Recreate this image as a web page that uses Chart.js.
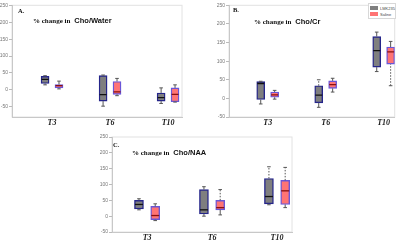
<!DOCTYPE html>
<html>
<head>
<meta charset="utf-8">
<script src="https://cdn.jsdelivr.net/npm/chart.js@4"></script>
<style>
  body { margin: 0; background: #fff; width: 400px; height: 242px; overflow: hidden; position: relative; }
  canvas { position: absolute; }
  .lbl { position: absolute; white-space: pre; line-height: 1; color: #111; }
  .ser { font-family: 'Liberation Serif', serif; font-weight: bold; }
  .san { font-family: 'Liberation Sans', sans-serif; font-weight: bold; }
  #legend { position: absolute; left: 368px; top: 3px; width: 26px; background: #fff; border: 1px solid #d8d8d8; padding: 1px 0; }
  #legend div { display: flex; align-items: center; height: 6px; font: 4px 'Liberation Sans', sans-serif; color: #444; }
  #legend span.sw { display: inline-block; width: 8px; height: 4px; margin: 0 2px 0 1px; }
</style>
</head>
<body>
<canvas id="chartA" width="190" height="132" style="left:0;top:0"></canvas>
<canvas id="chartB" width="200" height="132" style="left:200px;top:0"></canvas>
<canvas id="chartC" width="210" height="114" style="left:90px;top:128px"></canvas>

<div class="lbl ser" style="left:18px;top:8px;font-size:6.5px">A.</div>
<div class="lbl" style="left:33px;top:10px"><span class="ser" style="font-size:7px">% change in</span> <span class="san" style="font-size:7.5px">Cho/Water</span></div>
<div class="lbl ser" style="left:233px;top:7px;font-size:6.5px">B.</div>
<div class="lbl" style="left:254px;top:11px"><span class="ser" style="font-size:7px">% change in</span> <span class="san" style="font-size:7.5px">Cho/Cr</span></div>
<div class="lbl ser" style="left:113px;top:142px;font-size:6.5px">C.</div>
<div class="lbl" style="left:132px;top:142px"><span class="ser" style="font-size:7px">% change in</span> <span class="san" style="font-size:7.5px">Cho/NAA</span></div>
<div id="legend"></div>

<script>
// categories and groups
const timepoints = ['T3', 'T6', 'T10'];
const groups = ['LMK235', 'Saline'];
const yTicks = [-50, 0, 50, 100, 150, 200, 250];

// five-number summaries per timepoint: [min, q1, median, q3, max]
const waterLmk = [[15, 19, 31, 40, 42], [-48, -33, -14, 42, 44], [-40, -33, -23, -9, 6]];
const waterSaline = [[3, 6, 12.5, 16, 26], [-17, -13, -6, 25, 34], [-36, -35, -13, 6, 15]];
const crLmk = [[-15, -3, 40, 45, 46], [-24, -12, 8.6, 34, 50], [72, 84, 128, 166, 178]];
const crSaline = [[-2, 3, 9.5, 17, 21.5], [17, 27, 37, 47, 54], [34, 92, 125, 138, 153]];
const naaLmk = [[20, 23, 37, 50, 55], [0, 7, 20, 84, 93], [36, 39, 62, 119, 156]];
const naaSaline = [[-14, -11, 2, 31, 39], [4, 20, 27, 50, 84], [27, 37, 80, 113, 154]];

// which whiskers are drawn dashed: 'lo' / 'hi' per timepoint
const dashB = [[[], ['hi'], []], [[], [], ['lo']]];
const dashC = [[[], [], ['hi']], [[], ['hi'], ['hi']]];
const noDash = [[[], [], []], [[], [], []]];

const fills = ['#7f7f7f', '#ff7474'];
const edges = ['#25258a', '#6a56d8'];
const medians = ['#111111', '#8a1010'];

const legend = document.getElementById('legend');
groups.forEach((g, i) => {
    legend.innerHTML += `<div><span class="sw" style="background:${fills[i]}"></span>${g}</div>`;
});

const frame = {
    id: 'frame',
    beforeDraw(chart) {
        const a = chart.chartArea, c = chart.ctx;
        c.save();
        c.strokeStyle = '#e2e2e2';
        c.lineWidth = 1;
        c.strokeRect(a.left, a.top, a.right - a.left, a.bottom - a.top);
        c.restore();
    }
};

function makeBox(id, series, dash, cfg) {
    const datasets = [];
    series.forEach((s, g) => {
        const off = g === 0 ? -cfg.shift : cfg.shift;
        const xs = s.map((_, i) => i + 1 + off);
        datasets.push({
            type: 'bar', label: groups[g], order: 3,
            data: s.map((v, i) => ({ x: xs[i], y: [v[1], v[3]] })),
            backgroundColor: fills[g], borderColor: edges[g], borderWidth: 1.4,
            borderSkipped: false, barThickness: cfg.bw, grouped: false
        });
        const wh = [];
        s.forEach((v, i) => {
            wh.push({ x: xs[i], y: v[0] }, { x: xs[i], y: v[1] }, { x: xs[i], y: null });
            wh.push({ x: xs[i], y: v[3] }, { x: xs[i], y: v[4] }, { x: xs[i], y: null });
        });
        datasets.push({
            type: 'line', order: 2, data: wh, borderColor: '#555', borderWidth: 1,
            pointRadius: 0, spanGaps: false,
            segment: {
                borderDash: ctx => {
                    const i = Math.floor(ctx.p0DataIndex / 6);
                    const part = ctx.p0DataIndex % 6 === 0 ? 'lo' : 'hi';
                    return dash[g][i].includes(part) ? [1.5, 1.5] : undefined;
                }
            }
        });
        datasets.push({
            type: 'scatter', order: 1,
            data: s.map((v, i) => ({ x: xs[i], y: v[2] })),
            pointStyle: 'line', pointRadius: cfg.bw / 2 - 0.5, borderColor: medians[g], borderWidth: 1.3
        });
        datasets.push({
            type: 'scatter', order: 1,
            data: s.flatMap((v, i) => [{ x: xs[i], y: v[0] }, { x: xs[i], y: v[4] }]),
            pointStyle: 'line', pointRadius: 1.8, borderColor: '#555', borderWidth: 1
        });
    });
    return new Chart(document.getElementById(id).getContext('2d'), {
        type: 'bar',
        data: { datasets: datasets },
        options: {
            responsive: false,
            animation: false,
            layout: { padding: { top: cfg.top, right: cfg.right, left: 0, bottom: 0 } },
            plugins: { legend: { display: false }, tooltip: { enabled: false } },
            scales: {
                x: {
                    type: 'linear', offset: false, min: cfg.xmin, max: cfg.xmax,
                    afterFit: s => { s.height = cfg.xh; },
                    afterBuildTicks: s => { s.ticks = timepoints.map((_, i) => ({ value: i + 1 })); },
                    ticks: {
                        padding: 1, color: '#222',
                        font: { family: 'Liberation Serif', size: 8, style: 'italic', weight: 'bold' },
                        callback: v => timepoints[v - 1]
                    },
                    grid: { display: true, drawOnChartArea: false, drawTicks: false },
                    border: { color: '#c8c8c8', width: 1 }
                },
                y: {
                    min: cfg.ymin, max: 250,
                    afterFit: s => { s.width = cfg.yw; },
                    afterBuildTicks: s => { s.ticks = yTicks.map(v => ({ value: v })); },
                    ticks: { padding: 1, color: '#777', font: { family: 'Liberation Sans', size: 5 } },
                    grid: { drawOnChartArea: false, tickLength: 3, color: '#bbb' },
                    border: { color: '#c8c8c8', width: 1 }
                }
            }
        },
        plugins: [frame]
    });
}

makeBox('chartA', [waterLmk, waterSaline], noDash,
    { shift: 0.12, bw: 8, top: 2, right: 8, xh: 15, yw: 12, xmin: 0.31, xmax: 3.24, ymin: -80 });
makeBox('chartB', [crLmk, crSaline], dashB,
    { shift: 0.12, bw: 8, top: 2, right: 4, xh: 15, yw: 29, xmin: 0.333, xmax: 3.19, ymin: -50 });
makeBox('chartC', [naaLmk, naaSaline], dashC,
    { shift: 0.125, bw: 9, top: 9, right: 8, xh: 10, yw: 22, xmin: 0.46, xmax: 3.23, ymin: -50 });
</script>
</body>
</html>
